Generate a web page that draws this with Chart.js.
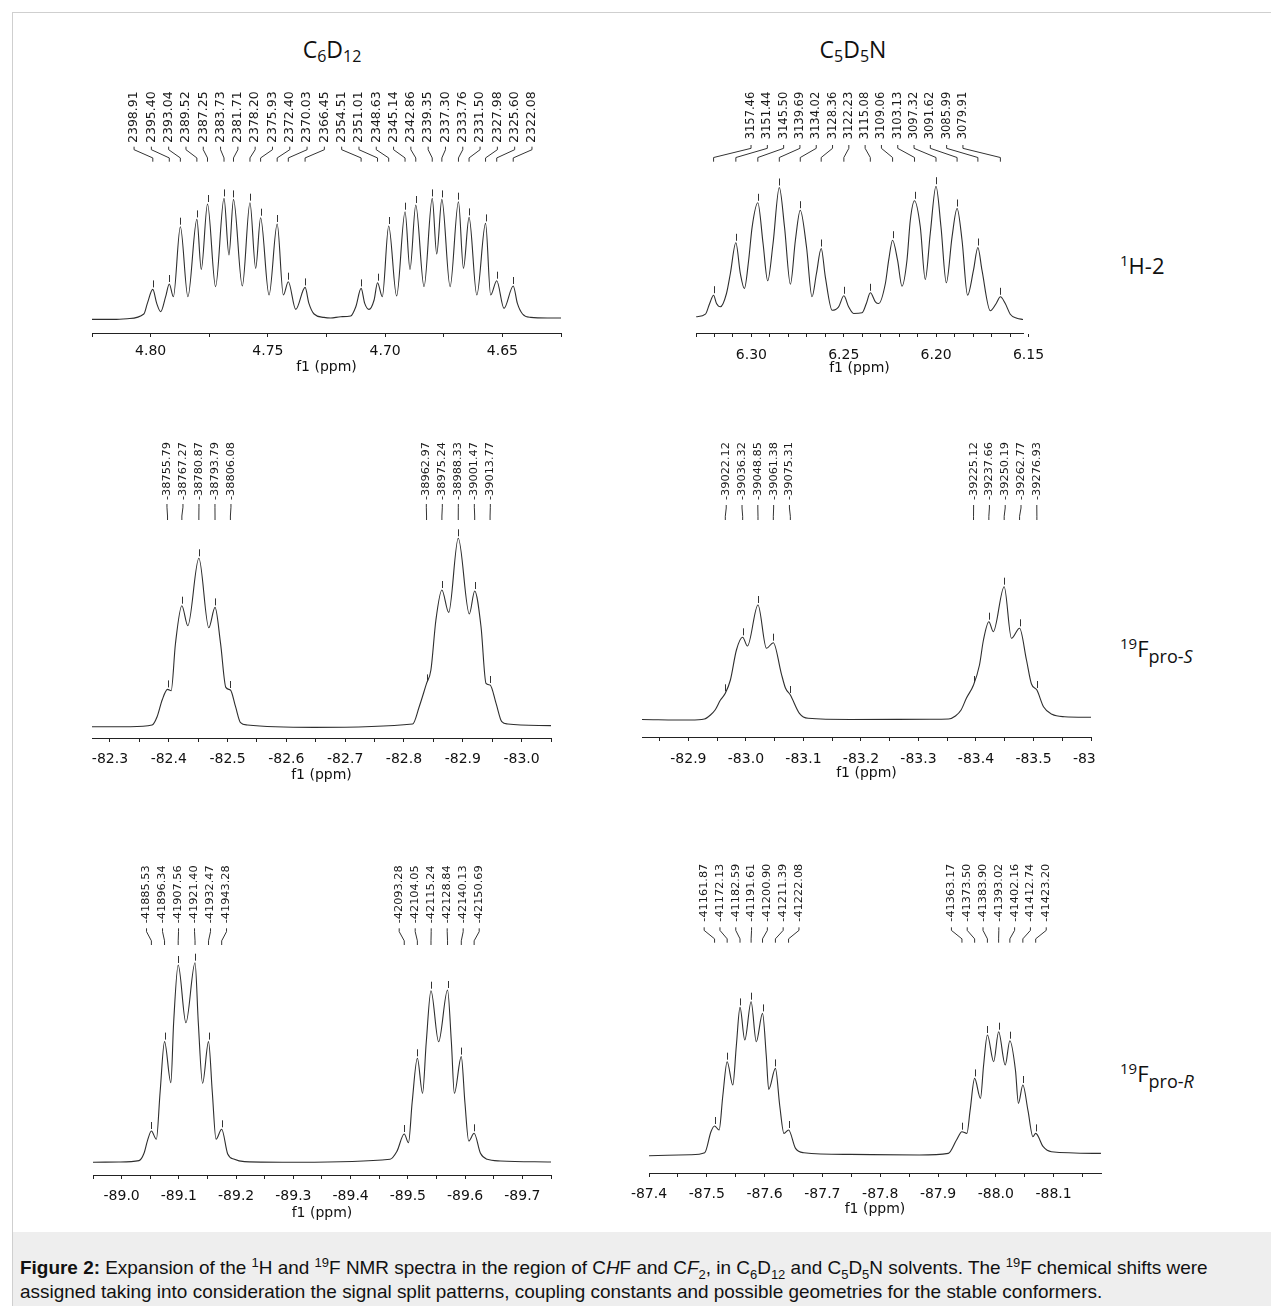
<!DOCTYPE html>
<html><head><meta charset="utf-8"><title>NMR expansion</title>
<script src="https://cdn.jsdelivr.net/npm/chart.js@4.4.1/dist/chart.umd.min.js"></script>
<style>
html,body{margin:0;padding:0;background:#fff;}
body{position:relative;width:1271px;height:1306px;overflow:hidden;}
#frame{position:absolute;left:12px;top:12px;width:1262px;height:1300px;border:1px solid #cfcfcf;box-sizing:border-box;}
canvas{position:absolute;}
.t{position:absolute;white-space:nowrap;color:#111;line-height:1;}
.title{font-family:"Open Sans",sans-serif;font-size:23px;transform:translateX(-50%);}
.title sub{font-size:16px;vertical-align:-4px;line-height:0;}
.side{font-family:"Open Sans",sans-serif;font-size:22px;}
.side sup{font-size:15px;vertical-align:8px;line-height:0;}
.side sub{font-size:18px;vertical-align:-6px;line-height:0;}
#cap{position:absolute;left:13px;top:1232px;width:1258px;height:74px;background:#eeeeee;font-family:"Liberation Sans",Arial,sans-serif;font-size:18.95px;line-height:24px;color:#111;box-sizing:border-box;padding:24px 0 0 7px;}
#cap sup,#cap sub{font-size:13px;line-height:0;}
</style></head><body>
<div id="frame"></div>
<div class="t title" style="left:332px;top:38px">C<sub>6</sub>D<sub>12</sub></div>
<div class="t title" style="left:853px;top:38px">C<sub>5</sub>D<sub>5</sub>N</div>
<div class="t side" style="left:1120px;top:254px"><sup>1</sup>H-2</div>
<div class="t side" style="left:1120px;top:637px"><sup>19</sup>F<sub>pro-<i>S</i></sub></div>
<div class="t side" style="left:1120px;top:1062px"><sup>19</sup>F<sub>pro-<i>R</i></sub></div>
<div id="cap"><b>Figure 2:</b> Expansion of the <sup>1</sup>H and <sup>19</sup>F NMR spectra in the region of C<i>H</i>F and C<i>F</i><sub>2</sub>, in C<sub>6</sub>D<sub>12</sub> and C<sub>5</sub>D<sub>5</sub>N solvents. The <sup>19</sup>F chemical shifts were<br>assigned taking into consideration the signal split patterns, coupling constants and possible geometries for the stable conformers.</div>
<script>
// ======================= DATA =======================
// Panel A : 1H-2, C6D12
const aLabels = ['2398.91','2395.40','2393.04','2389.52','2387.25','2383.73','2381.71','2378.20','2375.93','2372.40','2370.03','2366.45','2354.51','2351.01','2348.63','2345.14','2342.86','2339.35','2337.30','2333.76','2331.50','2327.98','2325.60','2322.08'];
const aPeakShift = [4.79907,4.79204,4.78732,4.78028,4.77574,4.76870,4.76466,4.75764,4.75310,4.74603,4.74129,4.73413,4.71024,4.70324,4.69848,4.69150,4.68693,4.67991,4.67581,4.66873,4.66421,4.65717,4.65241,4.64537];
const aPeakHeight = [29.3,34.7,92,99.3,114.7,120.3,119.3,116,101,94.7,37,31.3,30.3,36,92.7,107,113.7,120.3,119.3,117,101.3,95.3,38,32.7];
const aGroups = [24];
const aTraceShift = [4.8250,4.8157,4.8100,4.8029,4.8014,4.7974,4.7957,4.7936,4.7903,4.7841,4.7784,4.7723,4.7666,4.7609,4.7552,4.7495,4.7434,4.7381,4.7325,4.7303,4.7261,4.7232,4.7189,4.7147,4.7125,4.7087,4.7069,4.7047,4.7012,4.6951,4.6894,4.6834,4.6780,4.6723,4.6666,4.6609,4.6550,4.6493,4.6436,4.6414,4.6379,4.6308,4.6250];
const aTraceHeight = [-0.7,-0.7,0,4.7,15.3,15.3,7,22,22,22,49.3,32,63.7,32.7,50.3,23.7,23.7,9.3,15.3,4.7,1.3,0.7,2,2.7,12,15.3,9.3,18.7,22,22.7,49.3,32,64.7,32,50.3,23.7,23.7,10.3,15.3,4.7,1.3,0.7,0.7];
const aTicks = [4.825,4.800,4.775,4.750,4.725,4.700,4.675,4.650,4.625];
const aTickLabels = ['4.80','4.75','4.70','4.65'];

// Panel B : 1H-2, C5D5N
const bLabels = ['3157.46','3151.44','3145.50','3139.69','3134.02','3128.36','3122.23','3115.08','3109.06','3103.13','3097.32','3091.62','3085.99','3079.91'];
const bPeakShift = [6.32048,6.30843,6.29654,6.28491,6.27356,6.26223,6.24996,6.23564,6.22359,6.21172,6.20009,6.18868,6.17742,6.16524];
const bPeakHeight = [22.3,74.7,114.7,130,107.3,69,21.7,24.7,77.3,116.7,131.3,109,70,20.7];
const bGroups = [14];
const bTraceShift = [6.3299,6.3249,6.3226,6.3189,6.3168,6.3135,6.3114,6.3060,6.3038,6.3015,6.2996,6.2937,6.2912,6.2883,6.2821,6.2789,6.2762,6.2702,6.2672,6.2648,6.2600,6.2563,6.2528,6.2474,6.2447,6.2401,6.2378,6.2329,6.2311,6.2275,6.2257,6.2209,6.2185,6.2158,6.2140,6.2086,6.2059,6.2032,6.1974,6.1945,6.1914,6.1860,6.1830,6.1798,6.1752,6.1707,6.1675,6.1626,6.1599,6.1563,6.1530];
const bTraceHeight = [0.7,3.3,14,14,10.7,24,44,44,29,57.3,90.7,74,36.7,74,90.7,33.3,77.3,70.7,20.7,44,40.7,7.3,10.7,10.7,4,4.7,14,15.7,14,34,57.3,57.3,31.3,57.3,97.3,90.7,38,84,90.7,34.7,80.7,77.3,22.3,47.3,47.3,6.7,14,14,3.3,-0.7,-2];
const bTicks = [6.33,6.32,6.31,6.30,6.29,6.28,6.27,6.26,6.25,6.24,6.23,6.22,6.21,6.20,6.19,6.18,6.17,6.16,6.15];
const bTickLabels = ['6.30','6.25','6.20','6.15'];

// Panel C : 19F pro-S, C6D12
const cLabels = ['-38755.79','-38767.27','-38780.87','-38793.79','-38806.08','-38962.97','-38975.24','-38988.33','-39001.47','-39013.77'];
const cPeakShift = [-82.39791,-82.42231,-82.45123,-82.47870,-82.50483,-82.83839,-82.86448,-82.89231,-82.92025,-82.94640];
const cPeakHeight = [37.3,121,168.4,119.3,36.7,43.3,136.7,188.4,135.7,41.7];
const cGroups = [5,5];
const cTraceShift = [-82.2695,-82.3348,-82.3717,-82.3802,-82.3888,-82.4041,-82.4114,-82.4324,-82.4681,-82.4881,-82.4971,-82.5136,-82.5221,-82.5336,-82.6470,-82.8147,-82.8259,-82.8458,-82.8543,-82.8760,-82.9111,-82.9310,-82.9395,-82.9566,-82.9663,-82.9765,-83.0514];
const cTraceHeight = [0,0,1.7,10,26.7,36,83,101,99,83.3,39.3,20,4,1.7,-0.7,2.7,20,56.7,106.7,114.3,112.7,100,43.3,23.3,5,2.7,1];
const cTicks = [-82.30,-82.35,-82.40,-82.45,-82.50,-82.55,-82.60,-82.65,-82.70,-82.75,-82.80,-82.85,-82.90,-82.95,-83.00,-83.05];
const cTickLabels = ['-82.3','-82.4','-82.5','-82.6','-82.7','-82.8','-82.9','-83.0'];

// Panel D : 19F pro-S, C5D5N
const dLabels = ['-39022.12','-39036.32','-39048.85','-39061.38','-39075.31','-39225.12','-39237.66','-39250.19','-39262.77','-39276.93'];
const dPeakShift = [-82.96415,-82.99434,-83.02098,-83.04762,-83.07724,-83.39574,-83.42240,-83.44904,-83.47579,-83.50589];
const dPeakHeight = [26.7,82.7,115,77.3,25,35,98.3,133.3,91.7,30];
const dGroups = [5,5];
const dTraceShift = [-82.8193,-82.9035,-82.9278,-82.9383,-82.9464,-82.9557,-82.9730,-82.9835,-83.0026,-83.0357,-83.0614,-83.0687,-83.0930,-83.1082,-83.1817,-83.3209,-83.3522,-83.3643,-83.3741,-83.3835,-83.4061,-83.4130,-83.4301,-83.4617,-83.4878,-83.4965,-83.5174,-83.5322,-83.5539,-83.6000];
const dTraceHeight = [0.5,0,1,5,10,20,40,70,74,71.7,46.7,32,6.7,1.7,0.5,0.7,1,4,10,22,55,80,88.3,81.7,60,36,13.3,5.7,3.3,2.7];
const dTicks = [-82.85,-82.90,-82.95,-83.00,-83.05,-83.10,-83.15,-83.20,-83.25,-83.30,-83.35,-83.40,-83.45,-83.50,-83.55,-83.60];
const dTickLabels = ['-82.9','-83.0','-83.1','-83.2','-83.3','-83.4','-83.5','-83.6'];

// Panel E : 19F pro-R, C6D12
const eLabels = ['-41885.53','-41896.34','-41907.56','-41921.40','-41932.47','-41943.28','-42093.28','-42104.05','-42115.24','-42128.84','-42140.13','-42150.69'];
const ePeakShift = [-89.05198,-89.07496,-89.09882,-89.12824,-89.15178,-89.17476,-89.49368,-89.51658,-89.54037,-89.56928,-89.59329,-89.61574];
const ePeakHeight = [31.3,120.7,197.3,199.6,120.7,33,28.3,104,171.6,172.3,105.7,29];
const eGroups = [6,6];
const eTraceShift = [-88.9484,-88.9953,-89.0304,-89.0391,-89.0453,-89.0607,-89.0672,-89.0860,-89.0909,-89.1123,-89.1339,-89.1414,-89.1584,-89.1649,-89.1853,-89.1970,-89.2146,-89.3111,-89.4689,-89.4807,-89.5011,-89.5075,-89.5256,-89.5321,-89.5537,-89.5760,-89.5812,-89.5996,-89.6063,-89.6268,-89.6386,-89.6619,-89.7509];
const eTraceHeight = [0,0.3,1.7,9,22,23,70,79.7,140,139.6,140,79,70,23,8.3,3,0.7,0,3,10.7,19.7,60,69,120,120.6,120,69,60,21.3,9,3,1.3,0.3];
const eTicks = [-88.95,-89.00,-89.05,-89.10,-89.15,-89.20,-89.25,-89.30,-89.35,-89.40,-89.45,-89.50,-89.55,-89.60,-89.65,-89.70,-89.75];
const eTickLabels = ['-89.0','-89.1','-89.2','-89.3','-89.4','-89.5','-89.6','-89.7'];

// Panel F : 19F pro-R, C5D5N
const fLabels = ['-41161.87','-41172.13','-41182.59','-41191.61','-41200.90','-41211.39','-41222.08','-41363.17','-41373.50','-41383.90','-41393.02','-41402.16','-41412.74','-41423.20'];
const fPeakShift = [-87.51343,-87.53524,-87.55748,-87.57666,-87.59641,-87.61871,-87.64144,-87.94141,-87.96337,-87.98548,-88.00487,-88.02430,-88.04679,-88.06903];
const fPeakHeight = [29.7,94,148.3,154,142.3,87.3,25.7,24,77.3,120.7,124,115,70.7,22.3];
const fGroups = [7,7];
const fTraceShift = [-87.4000,-87.4716,-87.4964,-87.5072,-87.5213,-87.5277,-87.5450,-87.5511,-87.5657,-87.5856,-87.6029,-87.6071,-87.6262,-87.6335,-87.6535,-87.6679,-87.7481,-87.8673,-87.9178,-87.9320,-87.9500,-87.9555,-87.9735,-87.9788,-87.9963,-88.0163,-88.0341,-88.0391,-88.0557,-88.0642,-88.0820,-88.0963,-88.1819];
const fTraceHeight = [0,1,3,24,25.7,60,70.7,110,115.7,114,100,66.3,50,22.3,7.3,3,1.3,0.7,2.3,15.7,22.3,45,57.3,90,94,90.7,85,52.3,45,19,9,4,2.3];
const fTicks = [-87.40,-87.45,-87.50,-87.55,-87.60,-87.65,-87.70,-87.75,-87.80,-87.85,-87.90,-87.95,-88.00,-88.05,-88.10,-88.15];
const fTickLabels = ['-87.4','-87.5','-87.6','-87.7','-87.8','-87.9','-88.0','-88.1'];

// ======================= LAYOUT / STYLE =======================
const LAYOUT = [
 {x0:92,x1:561,axisY:333,baseY:318.7,top:80,min:4.625,max:4.825,labelOff:18,titleOff:34,lblFont:12.5,spacing:17.3,textBottom:143,connTop:146.7,connBottom:161.7,padL:40,padR:40},
 {x0:696,x1:1023,axisY:333,baseY:317.5,top:80,min:6.153,max:6.33,labelOff:22,titleOff:35.6,lblFont:11.5,spacing:16.3,textBottom:139.3,connTop:145,connBottom:161.7,padL:40,padR:40},
 {x0:92,x1:551,axisY:738,baseY:726.7,top:430,min:-83.05,max:-82.2695,labelOff:21,titleOff:37,lblFont:11.3,spacing:16,textBottom:500,connTop:504,connBottom:520,padL:40,padR:40},
 {x0:642,x1:1091,axisY:737,baseY:720,top:430,min:-83.6,max:-82.8193,labelOff:22,titleOff:36,lblFont:11.3,spacing:15.8,textBottom:500,connTop:505,connBottom:520,padL:40,padR:4},
 {x0:93,x1:551,axisY:1175,baseY:1162.3,top:855,min:-89.75,max:-88.95,labelOff:21.7,titleOff:38.3,lblFont:11.3,spacing:16,textBottom:923.3,connTop:928.3,connBottom:945,padL:40,padR:40},
 {x0:649,x1:1101,axisY:1173,baseY:1155.7,top:855,min:-88.182,max:-87.4,labelOff:21.7,titleOff:36.7,lblFont:11.3,spacing:15.8,textBottom:921.7,connTop:927.3,connBottom:942.7,padL:40,padR:40}
];
const DATA = [
 {labels:aLabels,peakShift:aPeakShift,peakHeight:aPeakHeight,groups:aGroups,traceShift:aTraceShift,traceHeight:aTraceHeight,ticks:aTicks,tickLabels:aTickLabels},
 {labels:bLabels,peakShift:bPeakShift,peakHeight:bPeakHeight,groups:bGroups,traceShift:bTraceShift,traceHeight:bTraceHeight,ticks:bTicks,tickLabels:bTickLabels},
 {labels:cLabels,peakShift:cPeakShift,peakHeight:cPeakHeight,groups:cGroups,traceShift:cTraceShift,traceHeight:cTraceHeight,ticks:cTicks,tickLabels:cTickLabels},
 {labels:dLabels,peakShift:dPeakShift,peakHeight:dPeakHeight,groups:dGroups,traceShift:dTraceShift,traceHeight:dTraceHeight,ticks:dTicks,tickLabels:dTickLabels},
 {labels:eLabels,peakShift:ePeakShift,peakHeight:ePeakHeight,groups:eGroups,traceShift:eTraceShift,traceHeight:eTraceHeight,ticks:eTicks,tickLabels:eTickLabels},
 {labels:fLabels,peakShift:fPeakShift,peakHeight:fPeakHeight,groups:fGroups,traceShift:fTraceShift,traceHeight:fTraceHeight,ticks:fTicks,tickLabels:fTickLabels}
];

const AXIS_FONT = {family:'"DejaVu Sans", Verdana, sans-serif', size:14};
const LH = 14*1.2, TICK_LEN = 4;

const peakMarks = {
  id:'peakMarks',
  afterDatasetsDraw(chart, args, opts){
    const {ctx} = chart, xs = chart.scales.x, ys = chart.scales.y;
    const L = opts.L, D = opts.D;
    ctx.save();
    ctx.strokeStyle = '#333'; ctx.lineWidth = 1;
    D.peakShift.forEach((s,i)=>{
      const px = Math.round(xs.getPixelForValue(s)) + 0.5;
      const py = ys.getPixelForValue(D.peakHeight[i]);
      ctx.beginPath(); ctx.moveTo(px, py-2); ctx.lineTo(px, py-9); ctx.stroke();
    });
    const tb = L.textBottom - L.top, c0 = L.connTop - L.top, c3 = L.connBottom - L.top;
    const c1 = c0 + (c3-c0)*0.2, c2 = c0 + (c3-c0)*0.75;
    ctx.fillStyle = '#1a1a1a';
    ctx.font = L.lblFont + 'px "DejaVu Sans", Verdana, sans-serif';
    let k = 0;
    D.groups.forEach(n=>{
      const pxs = [];
      for(let j=0;j<n;j++) pxs.push(xs.getPixelForValue(D.peakShift[k+j]));
      const center = (pxs[0]+pxs[n-1])/2;
      for(let j=0;j<n;j++){
        const lx = center + (j-(n-1)/2)*L.spacing;
        ctx.save(); ctx.translate(lx, tb); ctx.rotate(-Math.PI/2);
        ctx.textAlign='left'; ctx.textBaseline='middle';
        ctx.fillText(D.labels[k+j], 0, 0); ctx.restore();
        ctx.beginPath(); ctx.moveTo(lx, c0); ctx.lineTo(lx, c1); ctx.lineTo(pxs[j], c2); ctx.lineTo(pxs[j], c3); ctx.stroke();
      }
      k += n;
    });
    ctx.restore();
  }
};

function makePanel(L, D){
  const axisH = Math.round(L.titleOff + LH/2 + 2);
  const W = (L.x1 - L.x0) + L.padL + L.padR;
  const H = (L.axisY - L.top) + axisH;
  const cv = document.createElement('canvas');
  cv.width = W; cv.height = H;
  cv.style.left = (L.x0 - L.padL) + 'px'; cv.style.top = L.top + 'px';
  cv.style.width = W + 'px'; cv.style.height = H + 'px';
  document.body.appendChild(cv);
  const pts = [];
  D.peakShift.forEach((s,i)=>pts.push({x:s, y:D.peakHeight[i]}));
  D.traceShift.forEach((s,i)=>pts.push({x:s, y:D.traceHeight[i]}));
  pts.sort((p,q)=>q.x-p.x);
  const labelFor = v => { const m = D.tickLabels.find(t=>Math.abs(parseFloat(t)-v)<1e-6); return m===undefined ? '' : m; };
  new Chart(cv, {
    type:'line',
    data:{datasets:[{data:pts, borderColor:'#2e2e2e', borderWidth:1.1, pointRadius:0, fill:false, cubicInterpolationMode:'monotone', tension:0.4}]},
    options:{
      animation:false, responsive:false, devicePixelRatio:1, events:[],
      layout:{padding:{left:L.padL, right:L.padR, top:0, bottom:0}},
      plugins:{legend:{display:false}, tooltip:{enabled:false}, peakMarks:{L, D}},
      scales:{
        x:{type:'linear', reverse:true, min:L.min, max:L.max,
           afterBuildTicks:s=>{ s.ticks = D.ticks.map(v=>({value:v})); },
           afterFit:s=>{ s.paddingLeft=0; s.paddingRight=0; s.height=axisH; },
           ticks:{autoSkip:false, maxRotation:0, minRotation:0, padding:L.labelOff-TICK_LEN-LH/2, color:'#111', font:AXIS_FONT, callback:(v)=>labelFor(v)},
           grid:{display:true, drawOnChartArea:false, drawTicks:true, tickLength:TICK_LEN, color:'#222', lineWidth:1},
           border:{display:true, color:'#222', width:1},
           title:{display:true, text:'f1 (ppm)', color:'#111', font:AXIS_FONT, padding:{top:0, bottom:axisH-L.titleOff-LH/2}}
        },
        y:{display:false, min:-(L.axisY-L.baseY), max:L.baseY-L.top}
      }
    },
    plugins:[peakMarks]
  });
}
LAYOUT.forEach((L,i)=>makePanel(L, DATA[i]));
</script>
</body></html>
